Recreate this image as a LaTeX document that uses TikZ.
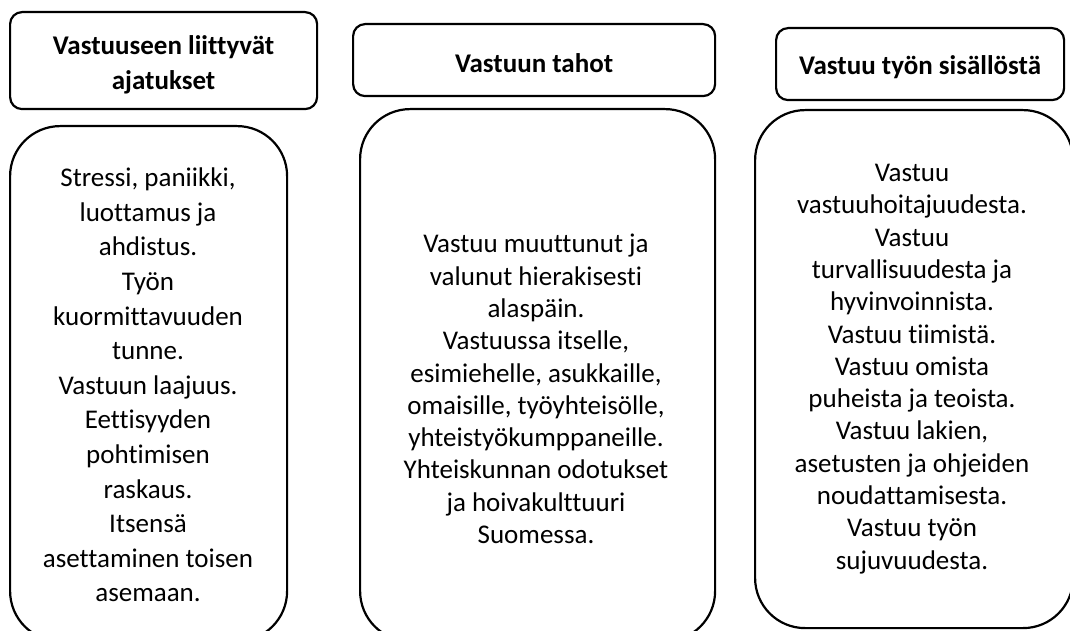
\documentclass[tikz,border=0pt]{standalone}
\usepackage{fontspec}
\setmainfont{Carlito}[Ligatures={NoCommon}]
\begin{document}
\begin{tikzpicture}[x=1pt,y=-1pt,
  headbox/.style={draw=black,line width=2.2pt,rounded corners=12pt,anchor=north west,inner sep=0pt},
  bodybox/.style={draw=black,line width=2.2pt,rounded corners=50pt,anchor=north west,inner sep=0pt},
  headtext/.style={align=center,font=\fontsize{27}{35}\selectfont\bfseries,inner sep=0pt},
  bodytext/.style={align=center,inner sep=0pt}]
\useasboundingbox (0,0) rectangle (1070,631);
\clip (0,0) rectangle (1070,631);
% headers
\node[headbox,minimum width=307pt,minimum height=97pt] (h1) at (9,11) {};
\node[headbox,minimum width=362pt,minimum height=72pt] (h2) at (352,23) {};
\node[headbox,minimum width=288pt,minimum height=72pt] (h3) at (775,27) {};
\node[headtext] (h1t) at ([yshift=-4pt]h1.center) {Vastuuseen liittyvät\\ajatukset};
\node[headtext] (h2t) at ([yshift=-3pt]h2.center) {Vastuun tahot};
\node[headtext] (h3t) at ([yshift=-3pt]h3.center) {Vastuu työn sisällöstä};
% bodies
\node[bodybox,minimum width=277pt,minimum height=515pt] (b1) at (9,125) {};
\node[bodybox,minimum width=355pt,minimum height=532pt] (b2) at (359,108) {};
\node[bodybox,minimum width=318pt,minimum height=518pt] (b3) at (754,109) {};
\node[bodytext,font=\fontsize{27}{34.6}\selectfont] (b1t) at (148,385) {Stressi, paniikki,\\luottamus ja\\ahdistus.\\Työn\\kuormittavuuden\\tunne.\\Vastuun laajuus.\\Eettisyyden\\pohtimisen\\raskaus.\\Itsensä\\asettaminen toisen\\asemaan.};
\node[bodytext,font=\fontsize{27}{32.3}\selectfont] (b2t) at (536,389) {Vastuu muuttunut ja\\valunut hierakisesti\\alaspäin.\\Vastuussa itselle,\\esimiehelle, asukkaille,\\omaisille, työyhteisölle,\\yhteistyökumppaneille.\\Yhteiskunnan odotukset\\ja hoivakulttuuri\\Suomessa.};
\node[bodytext,font=\fontsize{27}{32.3}\selectfont] (b3t) at (912,369) {Vastuu\\vastuuhoitajuudesta.\\Vastuu\\turvallisuudesta ja\\hyvinvoinnista.\\Vastuu tiimistä.\\Vastuu omista\\puheista ja teoista.\\Vastuu lakien,\\asetusten ja ohjeiden\\noudattamisesta.\\Vastuu työn\\sujuvuudesta.};
\end{tikzpicture}
\end{document}
